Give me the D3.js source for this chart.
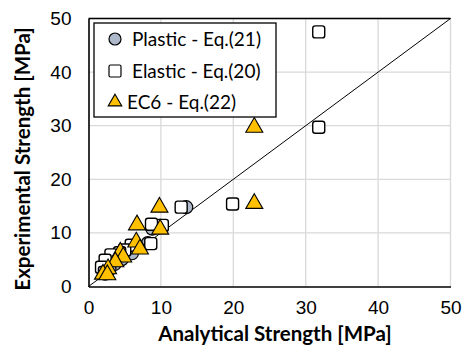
<!DOCTYPE html>
<html>
<head>
<meta charset="utf-8">
<script src="https://cdn.jsdelivr.net/npm/d3@7"></script>
<style>
  body { margin: 0; background: #fff; }
  .tick text { font-family: "Liberation Sans", Arial, sans-serif; font-size: 19px; fill: #000; }
  .title { font-family: Lato, "Open Sans", sans-serif; font-weight: bold; font-size: 20.5px; }
  .leg { font-family: Lato, "Open Sans", sans-serif; font-size: 19px; }
</style>
</head>
<body>
<div id="chart"></div>
<script>
const width = 463;
const height = 349;

// [analytical, experimental] pairs for each series
const plastic = [[13.5,14.8],[8.8,10.8],[8.2,8.1],[6.0,6.2],[4.6,5.1],[3.6,4.2],[2.9,3.2],[2.3,2.4]];
const elastic = [[31.8,47.5],[31.8,29.7],[19.9,15.4],[12.8,14.8],[10.2,11.4],[8.7,11.6],[8.6,8.0],
                 [5.9,7.7],[5.0,6.8],[4.3,6.3],[3.1,5.9],[2.3,4.9],[1.8,3.6],[2.2,2.6]];
const ec6 = [[22.9,29.5],[22.9,15.3],[9.8,14.6],[6.7,11.3],[9.9,10.5],[6.6,8.1],[7.1,6.8],
             [4.4,6.2],[4.8,5.3],[3.7,4.4],[2.7,3.1],[2.0,2.1],[2.6,2.0]];
const ticks = [0, 10, 20, 30, 40, 50];
const legendLabels = ["Plastic - Eq.(21)", "Elastic - Eq.(20)", "EC6 - Eq.(22)"];

const x = d3.scaleLinear().domain([0, 50]).range([88.5, 450.5]);
const y = d3.scaleLinear().domain([0, 50]).range([286.5, 18.5]);

const svg = d3.select("#chart").append("svg")
  .attr("width", width).attr("height", height);

// gridlines
svg.append("g").selectAll("line.gx").data(ticks.slice(1)).join("line")
  .attr("x1", d => x(d)).attr("x2", d => x(d))
  .attr("y1", y(0)).attr("y2", y(50))
  .attr("stroke", "#d9d9d9").attr("stroke-width", 1.3);
svg.append("g").selectAll("line.gy").data(ticks.slice(1)).join("line")
  .attr("y1", d => y(d)).attr("y2", d => y(d))
  .attr("x1", x(0)).attr("x2", x(50))
  .attr("stroke", "#d9d9d9").attr("stroke-width", 1.3);

// top border
svg.append("line")
  .attr("x1", x(0)).attr("x2", x(50)).attr("y1", y(50)).attr("y2", y(50))
  .attr("stroke", "#000").attr("stroke-width", 1.3);

// axes
const xAxis = svg.append("g").attr("transform", `translate(0,${y(0)})`)
  .call(d3.axisBottom(x).tickValues(ticks).tickSize(0).tickPadding(14));
const yAxis = svg.append("g").attr("transform", `translate(${x(0)},0)`)
  .call(d3.axisLeft(y).tickValues(ticks).tickSize(0).tickPadding(17));
[xAxis, yAxis].forEach(a => a.select(".domain").attr("stroke", "#000").attr("stroke-width", 1.6));

// 1:1 line
svg.append("line")
  .attr("x1", x(0)).attr("y1", y(0)).attr("x2", x(50)).attr("y2", y(50))
  .attr("stroke", "#000").attr("stroke-width", 1);

// series
const circleFill = "#adb9ca";
const triFill = "#ffc000";
const triangle = d3.symbol().type(d3.symbolTriangle).size(125);

svg.append("g").selectAll("circle").data(plastic).join("circle")
  .attr("cx", d => x(d[0])).attr("cy", d => y(d[1])).attr("r", 6.5)
  .attr("fill", circleFill).attr("stroke", "#000").attr("stroke-width", 1.2);

svg.append("g").selectAll("rect").data(elastic).join("rect")
  .attr("x", d => x(d[0]) - 6).attr("y", d => y(d[1]) - 6)
  .attr("width", 12).attr("height", 12).attr("rx", 2.5)
  .attr("fill", "#fff").attr("stroke", "#000").attr("stroke-width", 1.4);

svg.append("g").selectAll("path").data(ec6).join("path")
  .attr("d", triangle)
  .attr("transform", d => `translate(${x(d[0])},${y(d[1]) - 1})`)
  .attr("fill", triFill).attr("stroke", "#000").attr("stroke-width", 1.1);

// legend
const leg = svg.append("g");
leg.append("rect").attr("x", 94).attr("y", 23).attr("width", 182).attr("height", 94)
  .attr("fill", "#fff").attr("stroke", "#000").attr("stroke-width", 1.3);
const ly = [39, 71, 102];
leg.append("circle").attr("cx", 115).attr("cy", ly[0]).attr("r", 6)
  .attr("fill", circleFill).attr("stroke", "#000").attr("stroke-width", 1.2);
leg.append("rect").attr("x", 109).attr("y", ly[1] - 6).attr("width", 12).attr("height", 12)
  .attr("rx", 1.5).attr("fill", "#fff").attr("stroke", "#000").attr("stroke-width", 1.2);
leg.append("path").attr("d", d3.symbol().type(d3.symbolTriangle).size(80))
  .attr("transform", `translate(115,${ly[2]})`)
  .attr("fill", triFill).attr("stroke", "#000").attr("stroke-width", 1.1);
leg.selectAll("text").data(legendLabels).join("text")
  .attr("class", "leg")
  .attr("x", (d, i) => i === 2 ? 127 : 132)
  .attr("y", (d, i) => ly[i]).attr("dy", "0.35em")
  .text(d => d);

// axis titles
svg.append("text").attr("class", "title")
  .attr("x", 275).attr("y", 341).attr("text-anchor", "middle")
  .text("Analytical Strength [MPa]");
svg.append("text").attr("class", "title")
  .attr("transform", "translate(30,159) rotate(-90)").attr("text-anchor", "middle")
  .text("Experimental Strength [MPa]");
</script>
</body>
</html>
